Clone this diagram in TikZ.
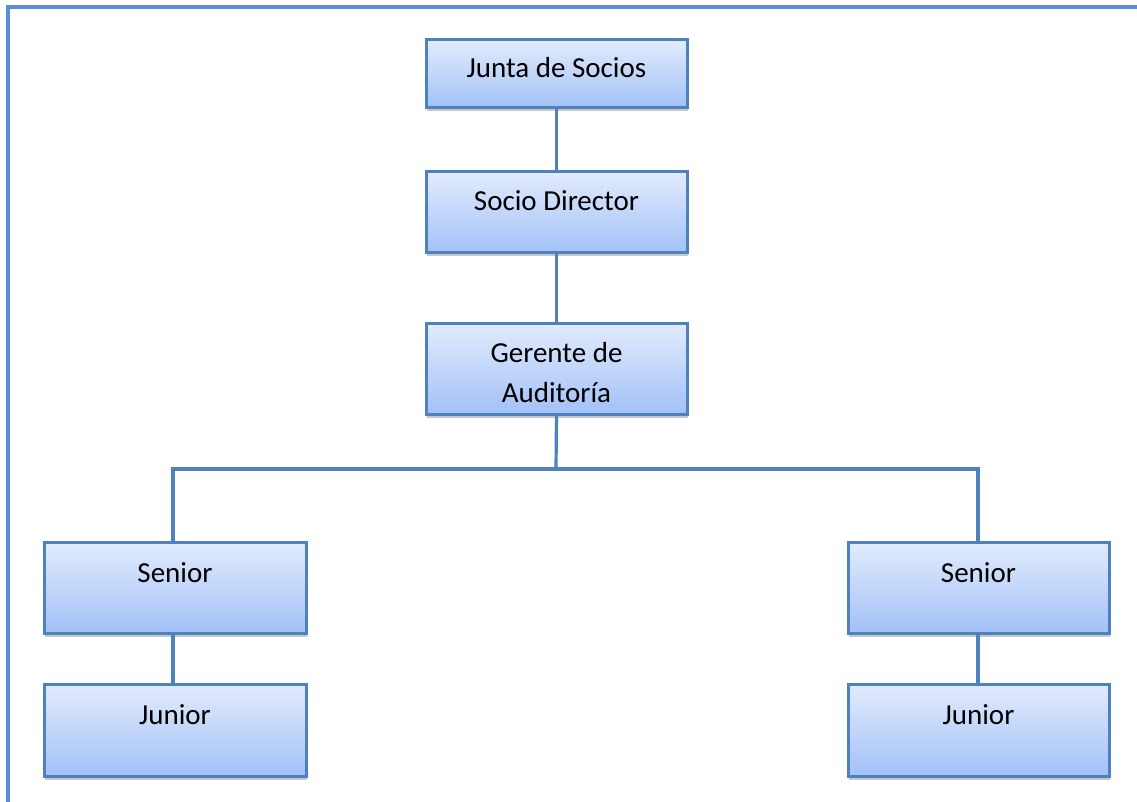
\documentclass[tikz,border=0pt]{standalone}
\usepackage{fontspec}
\setmainfont{Carlito}
\usetikzlibrary{shadows}
\definecolor{frameblue}{RGB}{91,142,216}
\definecolor{lineblue}{RGB}{79,129,189}
\definecolor{boxtop}{RGB}{226,235,252}
\definecolor{boxbot}{RGB}{162,193,247}
\tikzset{
  orgbox/.style={draw=lineblue, line width=3pt, top color=boxtop, bottom color=boxbot,
    minimum width=261pt, inner sep=0pt,
    drop shadow={shadow xshift=1pt, shadow yshift=-3.5pt, opacity=.3, fill=black!70}},
  lbl/.style={anchor=base, inner sep=0pt, font=\fontsize{29}{40}\selectfont, align=center},
  conn/.style={draw=lineblue, line width=3.2pt},
  frame/.style={draw=frameblue, line width=3.2pt}
}
\begin{document}
\begin{tikzpicture}[x=1pt,y=-1pt]
\useasboundingbox (0,0) rectangle (1137,802);
\fill[white] (0,0) rectangle (1137,802);
\draw[frame] (8,810) -- (8,7) -- (1145,7);
% boxes
\node[orgbox, minimum height=68pt] (junta) at (556.5,74) {};
\node[orgbox, minimum height=81pt] (socio) at (556.5,212.5) {};
\node[orgbox, minimum height=91pt] (gerente) at (556.5,368.5) {};
\node[orgbox, minimum height=91pt, minimum width=262pt] (seniorL) at (175,587.5) {};
\node[orgbox, minimum height=92pt, minimum width=262pt] (juniorL) at (175,730) {};
\node[orgbox, minimum height=91pt] (seniorR) at (978.5,587.5) {};
\node[orgbox, minimum height=92pt] (juniorR) at (978.5,730) {};
% labels
\node[lbl] (tjunta) at (556.5,78) {Junta de Socios};
\node[lbl] (tsocio) at (556.5,211) {Socio Director};
\node[lbl] (tgerente1) at (556.5,362) {Gerente de};
\node[lbl] (tgerente2) at (556.5,402) {Auditoría};
\node[lbl] (tseniorL) at (175,582) {Senior};
\node[lbl] (tjuniorL) at (175,724) {Junior};
\node[lbl] (tseniorR) at (978.5,582) {Senior};
\node[lbl] (tjuniorR) at (978.5,724) {Junior};
% connectors
\coordinate (busC) at (556,469);
\coordinate (busL) at (173,469);
\coordinate (busR) at (978,469);
\draw[conn] (junta.south) -- (socio.north);
\draw[conn] (socio.south) -- (gerente.north);
\draw[conn] (gerente.south) -- (busC);
\draw[conn, line cap=rect] (busL) -- (busR);
\draw[conn] (busL) -- (busL |- seniorL.north);
\draw[conn] (busR) -- (busR |- seniorR.north);
\draw[conn] (seniorL.south -| busL) -- (juniorL.north -| busL);
\draw[conn] (seniorR.south -| busR) -- (juniorR.north -| busR);
\end{tikzpicture}
\end{document}
